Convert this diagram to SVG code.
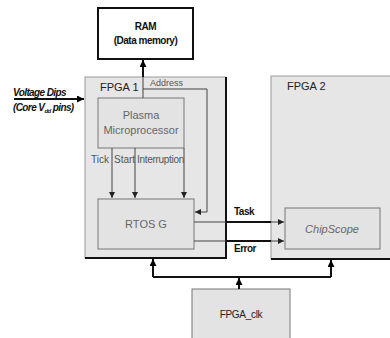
<svg xmlns="http://www.w3.org/2000/svg" width="390" height="338" viewBox="0 0 390 338">
<defs>
<style>
text{font-family:"Liberation Sans",Arial,sans-serif;}
.lbl{font-size:10px;fill:#555;}
.blk{font-size:10px;fill:#111;font-weight:bold;}
.thin{fill:none;stroke:#444;stroke-width:1;}
.thick{fill:none;stroke:#111;stroke-width:2;}
.fpga{fill:#e6e6e6;stroke:#999;stroke-width:1;}
.inner{fill:#e3e3e3;stroke:#777;stroke-width:1;}
</style>
<marker id="ah" viewBox="0 0 8 8" refX="8" refY="4" markerWidth="6" markerHeight="6" orient="auto" markerUnits="userSpaceOnUse"><path d="M0,0 L8,4 L0,8 z" fill="#222"/></marker>
<marker id="ahb" viewBox="0 0 8 8" refX="8" refY="4" markerWidth="7" markerHeight="7" orient="auto" markerUnits="userSpaceOnUse"><path d="M0,0 L8,4 L0,8 z" fill="#000"/></marker>
</defs>
<rect width="390" height="338" fill="#fff"/>
<g id="fpga1">
<rect class="fpga" x="85" y="77" width="141" height="181"/>
<path d="M226,77 V258 H85" fill="none" stroke="#111" stroke-width="2"/>
<text x="100" y="91" style="font-size:11px;fill:#222">FPGA 1</text>
</g>
<g id="fpga2">
<rect class="fpga" x="271" y="76" width="125" height="183"/>
<path d="M271,259 H396" fill="none" stroke="#111" stroke-width="2"/>
<text x="287" y="90" style="font-size:11px;fill:#222">FPGA 2</text>
</g>
<g id="ram">
<rect x="98" y="8" width="95" height="51" fill="#fff" stroke="#111" stroke-width="2"/>
<text x="145.5" y="30" text-anchor="middle" style="font-size:10px;fill:#111;font-weight:bold;letter-spacing:-0.5px">RAM</text>
<text x="145.5" y="44" text-anchor="middle" style="font-size:10px;fill:#111;font-weight:bold;letter-spacing:-0.5px">(Data memory)</text>
</g>
<g id="plasma">
<rect class="inner" x="98" y="98" width="86" height="50"/>
<text class="lbl" x="141" y="119" text-anchor="middle" style="font-size:11px;fill:#666">Plasma</text>
<text class="lbl" x="141" y="134" text-anchor="middle" style="font-size:11px;fill:#666">Microprocessor</text>
</g>
<g id="rtos">
<rect class="inner" x="98" y="199" width="96" height="50"/>
<text class="lbl" x="146" y="228" text-anchor="middle" style="font-size:11px;fill:#666">RTOS G</text>
</g>
<g id="chipscope">
<rect class="inner" x="285" y="208" width="95" height="41"/>
<text class="lbl" x="332" y="233" text-anchor="middle" style="font-size:11px;font-style:italic;fill:#666">ChipScope</text>
</g>
<g id="fpgaclk">
<rect class="inner" x="192" y="289" width="98" height="52"/>
<text x="241" y="318" text-anchor="middle" style="font-size:10px;fill:#222;letter-spacing:-0.3px">FPGA_clk</text>
</g>
<g id="voltage">
<text x="13" y="96" style="font-size:10px;font-weight:bold;font-style:italic;fill:#111;letter-spacing:-0.6px">Voltage Dips</text>
<text x="13" y="111" style="font-size:10px;font-weight:bold;font-style:italic;fill:#111;letter-spacing:-0.6px">(Core V<tspan style="font-size:6px" dy="2">dd</tspan><tspan dy="-2"> pins)</tspan></text>
</g>
<g id="connectors">
<path class="thick" d="M14,99 H84" marker-end="url(#ahb)"/>
<path class="thin" d="M143,98 V77"/>
<path class="thick" d="M143,77 V60" marker-end="url(#ahb)"/>
<path class="thin" d="M143,89 H207 V212 H195" marker-end="url(#ah)"/>
<text class="lbl" x="150" y="86" style="font-size:9px">Address</text>
<path class="thin" d="M112,148 V198" marker-end="url(#ah)"/>
<path class="thin" d="M135,148 V198" marker-end="url(#ah)"/>
<path class="thin" d="M184,148 V198" marker-end="url(#ah)"/>
<text class="lbl" x="91" y="163" style="font-size:10px">Tick</text>
<text class="lbl" x="114" y="163" style="font-size:10px">Start</text>
<text class="lbl" x="137" y="163" style="font-size:10px;letter-spacing:-0.3px">Interruption</text>
<path class="thin" d="M194,222 H226"/>
<path class="thick" d="M226,222 H271"/>
<path class="thin" d="M271,222 H284" marker-end="url(#ah)"/>
<path class="thin" d="M194,241 H226"/>
<path class="thick" d="M226,241 H271"/>
<path class="thin" d="M271,241 H284" marker-end="url(#ah)"/>
<text class="blk" x="234" y="215" style="letter-spacing:-0.5px">Task</text>
<text class="blk" x="234" y="252" style="letter-spacing:-0.5px">Error</text>
<path class="thick" d="M239,289 V278" marker-end="url(#ahb)"/>
<path class="thick" d="M153,277 H331"/>
<path class="thick" d="M153,277 V259" marker-end="url(#ahb)"/>
<path class="thick" d="M331,277 V260" marker-end="url(#ahb)"/>
</g>
</svg>
